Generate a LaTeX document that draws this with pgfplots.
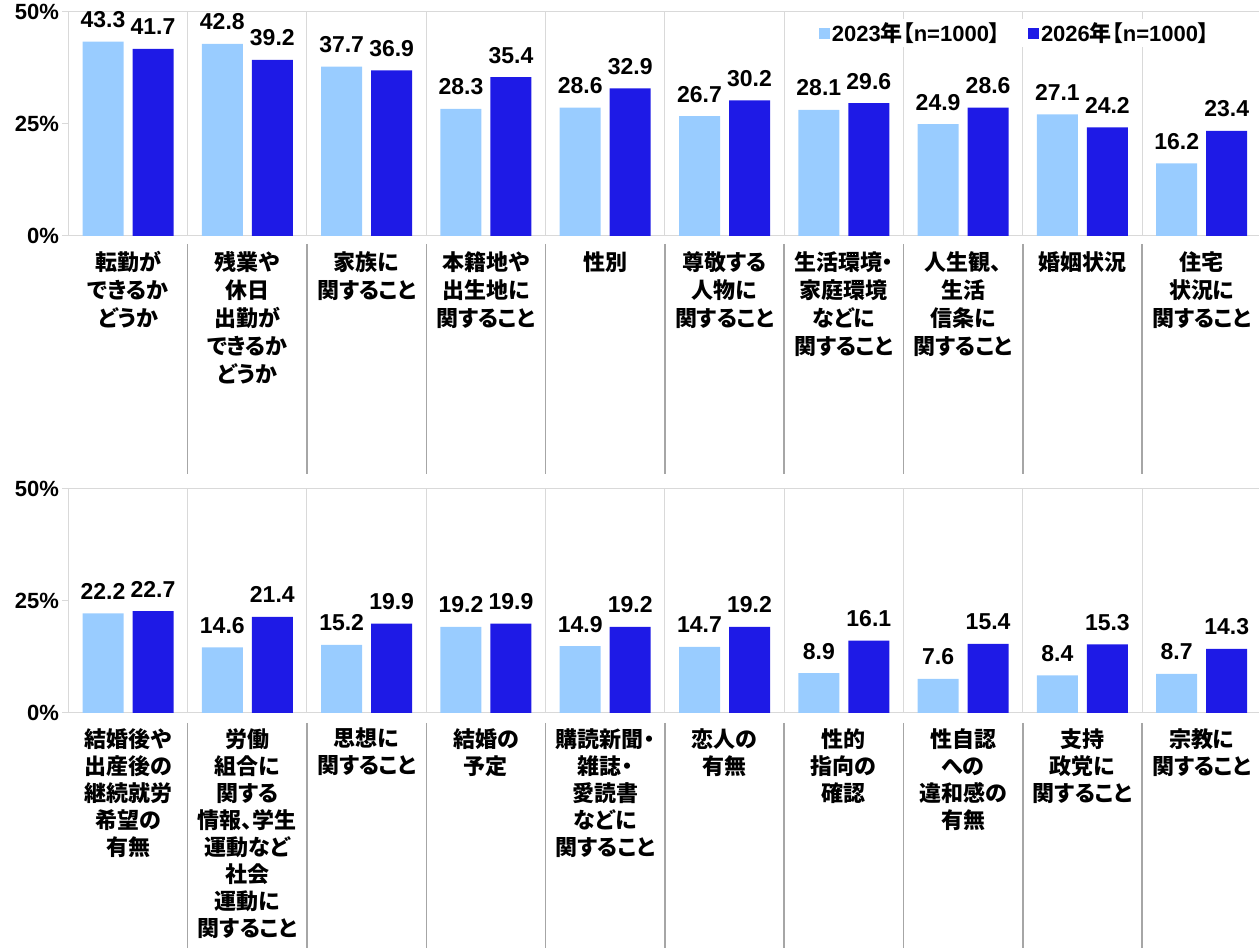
\documentclass[border=0pt]{standalone}
\usepackage{fontspec}
\setmainfont{Liberation Sans}
\newfontfamily\jp{Noto Sans CJK JP}[RawFeature=+palt]
\usepackage{pgfplots}
\pgfplotsset{compat=1.18}

\definecolor{c23}{RGB}{153,204,255}
\definecolor{c26}{RGB}{30,26,230}
\definecolor{gridc}{RGB}{217,217,217}
\definecolor{sepc}{RGB}{166,166,166}

\pgfplotsset{
  rowstyle/.style={
    ybar, scale only axis, width=1193pt, height=224.5pt, anchor=south west,
    xmin=-0.5, xmax=9.5, ymin=0, ymax=50, clip=false,
    bar width=41pt,
    xtick={0,...,9}, xtick style={draw=none},
    ytick={0,25,50},
    yticklabel={\pgfmathprintnumber{\tick}\%},
    /pgf/number format/assume math mode=true,
    tick align=outside, major tick length=6pt,
    ytick style={gridc, line width=1pt},
    axis line style={gridc, line width=1pt},
    extra x ticks={0.5,1.5,...,8.5}, extra x tick labels={},
    extra x tick style={grid=major, major tick length=0pt},
    major grid style={gridc, line width=1pt},
    yticklabel style={font=\bfseries\fontsize{22}{26}\selectfont},
    xticklabel style={font=\jp\bfseries\fontsize{22}{28}\selectfont,
      align=center, anchor=north, inner sep=0pt, yshift=-9pt},
    nodes near coords={\pgfmathprintnumber[fixed,precision=1,fixed zerofill]{\pgfplotspointmeta}},
    nodes near coords style={font=\bfseries\fontsize{23}{26}\selectfont, anchor=base,
      inner sep=0pt, yshift=14pt, black},
  },
  y23/.style={fill=c23, draw=none, bar shift=-25pt},
  y26/.style={fill=c26, draw=none, bar shift=25pt},
}

\begin{document}
\begin{tikzpicture}
\path[use as bounding box] (0pt,0pt) rectangle (1259pt,948pt);

% top row
\begin{axis}[rowstyle, at={(68.4pt,712pt)},
  xticklabels={{転勤が\\できるか\\どうか},{残業や\\休日\\出勤が\\できるか\\どうか},
    {家族に\\関すること},{本籍地や\\出生地に\\関すること},{性別},
    {尊敬する\\人物に\\関すること},{生活環境・\\家庭環境\\などに\\関すること},
    {人生観、\\生活\\信条に\\関すること},{婚姻状況},{住宅\\状況に\\関すること}},
  legend style={at={(0.7935,0.904)}, anchor=center, draw=none, fill=white,
    legend columns=2, font=\bfseries\fontsize{22}{24}\selectfont,
    /tikz/every even column/.append style={column sep=26pt}},
  legend image code/.code={\fill[#1] (0pt,-5.5pt) rectangle (11pt,5.5pt);},
]
\addplot[y23] coordinates {(0,43.3) (1,42.8) (2,37.7) (3,28.3) (4,28.6)
  (5,26.7) (6,28.1) (7,24.9) (8,27.1) (9,16.2)};
\addplot[y26] coordinates {(0,41.7) (1,39.2) (2,36.9) (3,35.4) (4,32.9)
  (5,30.2) (6,29.6) (7,28.6) (8,24.2) (9,23.4)};
\legend{2023{\jp 年【}n=1000{\jp 】}, 2026{\jp 年【}n=1000{\jp 】}}
\pgfplotsinvokeforeach{0.5,1.5,2.5,3.5,4.5,5.5,6.5,7.5,8.5}{
  \draw[sepc, line width=1.5pt] (axis cs:#1,0) ++(0pt,-8pt) -- ++(0pt,-230pt);}
\end{axis}

% bottom row
\begin{axis}[rowstyle, at={(68.4pt,235pt)},
  xticklabel style={font=\jp\bfseries\fontsize{22}{27}\selectfont},
  xticklabels={{結婚後や\\出産後の\\継続就労\\希望の\\有無},
    {労働\\組合に\\関する\\情報、学生\\運動など\\社会\\運動に\\関すること},
    {思想に\\関すること},{結婚の\\予定},
    {購読新聞・\\雑誌・\\愛読書\\などに\\関すること},{恋人の\\有無},
    {性的\\指向の\\確認},{性自認\\への\\違和感の\\有無},
    {支持\\政党に\\関すること},{宗教に\\関すること}},
]
\addplot[y23] coordinates {(0,22.2) (1,14.6) (2,15.2) (3,19.2) (4,14.9)
  (5,14.7) (6,8.9) (7,7.6) (8,8.4) (9,8.7)};
\addplot[y26] coordinates {(0,22.7) (1,21.4) (2,19.9) (3,19.9) (4,19.2)
  (5,19.2) (6,16.1) (7,15.4) (8,15.3) (9,14.3)};
\pgfplotsinvokeforeach{0.5,1.5,2.5,3.5,4.5,5.5,6.5,7.5,8.5}{
  \draw[sepc, line width=1.5pt] (axis cs:#1,0) ++(0pt,-10pt) -- ++(0pt,-240pt);}
\end{axis}
\end{tikzpicture}
\end{document}
